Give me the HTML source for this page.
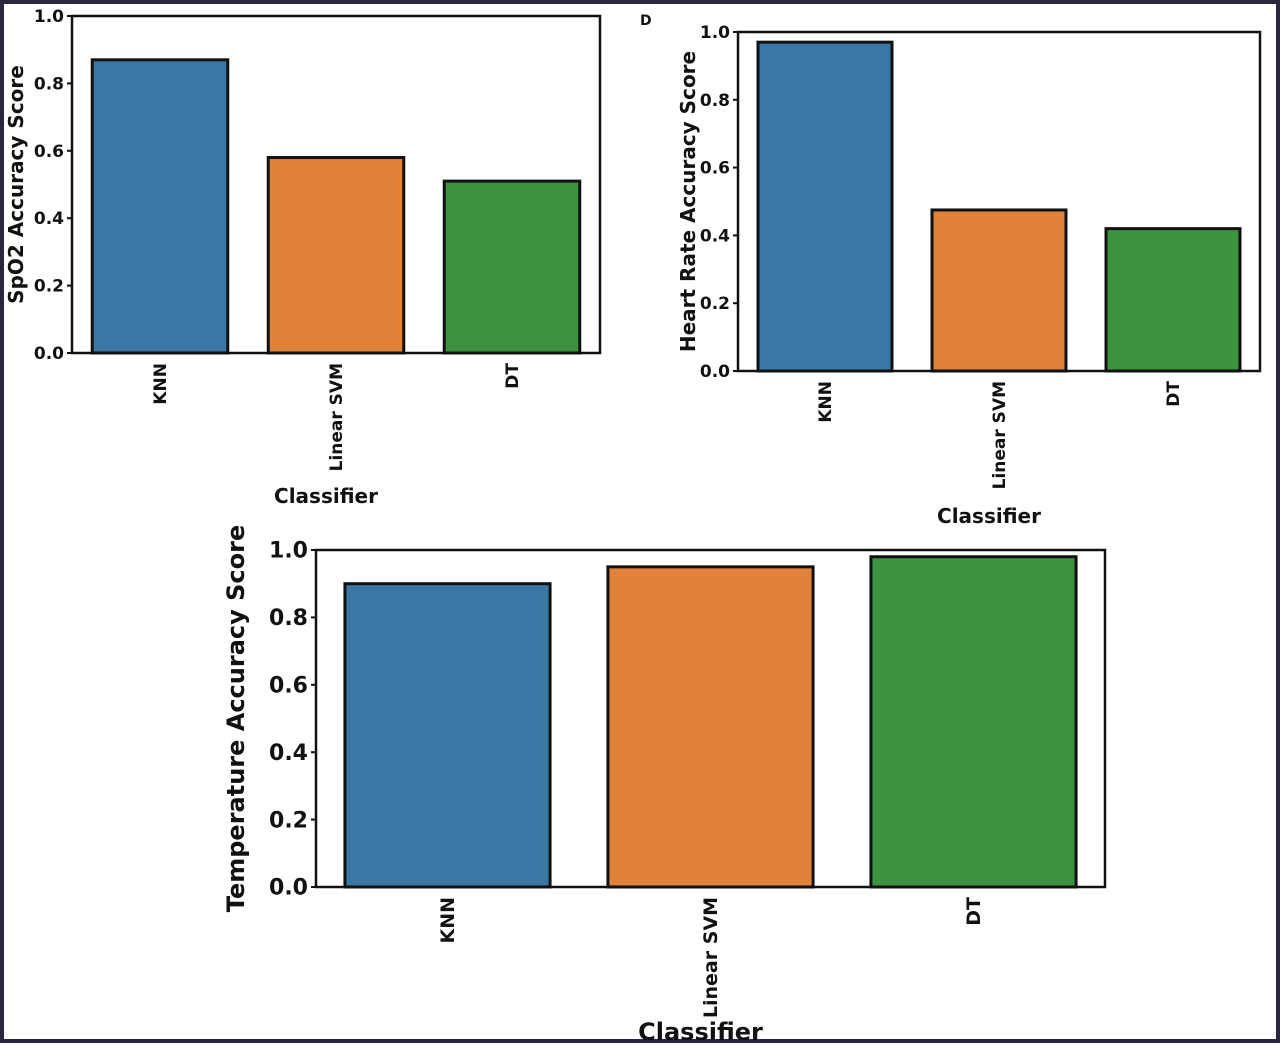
<!DOCTYPE html>
<html><head><meta charset="utf-8"><style>
html,body{margin:0;padding:0;background:#fff;}
#wrap{position:relative;width:1280px;height:1045px;overflow:hidden;}
svg text{font-family:"DejaVu Sans","Liberation Sans",sans-serif;fill:#111;font-weight:bold;}
</style></head><body>
<div id="wrap">
<svg id="svg" width="1280" height="1045" viewBox="0 0 1280 1045">
<rect x="2" y="2" width="1276" height="1039" fill="none" stroke="#2a2540" stroke-width="4"/>
<text x="640" y="25" font-size="14">D</text>
</svg>
</div>
<script>
const categories = ["KNN", "Linear SVM", "DT"];
const spo2Values = [0.87, 0.58, 0.51];
const heartValues = [0.97, 0.475, 0.42];
const tempValues = [0.90, 0.95, 0.98];
const yTicks = [0, 0.2, 0.4, 0.6, 0.8, 1.0];
const tickLabels = ["0.0", "0.2", "0.4", "0.6", "0.8", "1.0"];
const colors = ["#3a77a5", "#e0823a", "#3c933f"];

const NS = "http://www.w3.org/2000/svg";
const svg = document.getElementById("svg");
function mk(tag, attrs, parent) {
  const e = document.createElementNS(NS, tag);
  for (const k in attrs) e.setAttribute(k, attrs[k]);
  (parent || svg).appendChild(e);
  return e;
}

function drawChart(cfg, values, key) {
  const g = mk("g", {});
  
  
  const yScale = v => cfg.bottom - v * (cfg.bottom - cfg.top);
  const band = (cfg.right - cfg.left) / categories.length;
  const xCenter = i => cfg.left + band * (i + 0.5);
  const bw = band * cfg.barFrac;
  values.forEach((v, i) => {
    const r = mk("rect", {x: xCenter(i) - bw / 2, y: yScale(v), width: bw, height: yScale(0) - yScale(v),
      fill: colors[i], stroke: "#111", "stroke-width": 3}, g);
    
    
    const t = mk("text", {x: 0, y: 0, "font-size": cfg.xfs, "text-anchor": "end", "font-weight": "normal",
      transform: `translate(${xCenter(i) + cfg.xfs * 0.35},${cfg.bottom + 10}) rotate(-90)`}, g);
    t.textContent = categories[i];
    
    
  });
  const frame = mk("rect", {x: cfg.left, y: cfg.top, width: cfg.right - cfg.left, height: cfg.bottom - cfg.top,
    fill: "none", stroke: "#111", "stroke-width": 2.5}, g);
  
  
  yTicks.forEach((v, i) => {
    const y = yScale(v);
    const tk = mk("line", {x1: cfg.left - 5, x2: cfg.left, y1: y, y2: y, stroke: "#111", "stroke-width": 2}, g);
    
    
    const t = mk("text", {x: cfg.left - 8, y: y + cfg.yfs * 0.35, "font-size": cfg.yfs, "text-anchor": "end"}, g);
    t.textContent = tickLabels[i];
    
    
  });
  const yt = mk("text", {x: 0, y: 0, "font-size": cfg.tfs, "text-anchor": "middle", "font-weight": "normal",
    transform: `translate(${cfg.ytx},${(cfg.top + cfg.bottom) / 2}) rotate(-90)`}, g);
  yt.textContent = cfg.ytitle;
  
  
  const xt = mk("text", {x: (cfg.left + cfg.right) / 2 - 10, y: cfg.xty, "font-size": cfg.tfs, "text-anchor": "middle", "font-weight": "normal"}, g);
  xt.textContent = "Classifier";
  
  
}

drawChart({left: 72, right: 600, top: 16, bottom: 353, barFrac: 0.77, xfs: 17, yfs: 17, tfs: 20, ytx: 23, xty: 503,
  ytitle: "SpO2 Accuracy Score"}, spo2Values, "spo2");
drawChart({left: 738, right: 1260, top: 32, bottom: 371, barFrac: 0.77, xfs: 17, yfs: 17, tfs: 20, ytx: 695, xty: 523,
  ytitle: "Heart Rate Accuracy Score"}, heartValues, "heart-rate");
drawChart({left: 316, right: 1105, top: 550, bottom: 887, barFrac: 0.78, xfs: 19, yfs: 22, tfs: 24, ytx: 244, xty: 1040,
  ytitle: "Temperature Accuracy Score"}, tempValues, "temperature");
</script>
</body></html>
